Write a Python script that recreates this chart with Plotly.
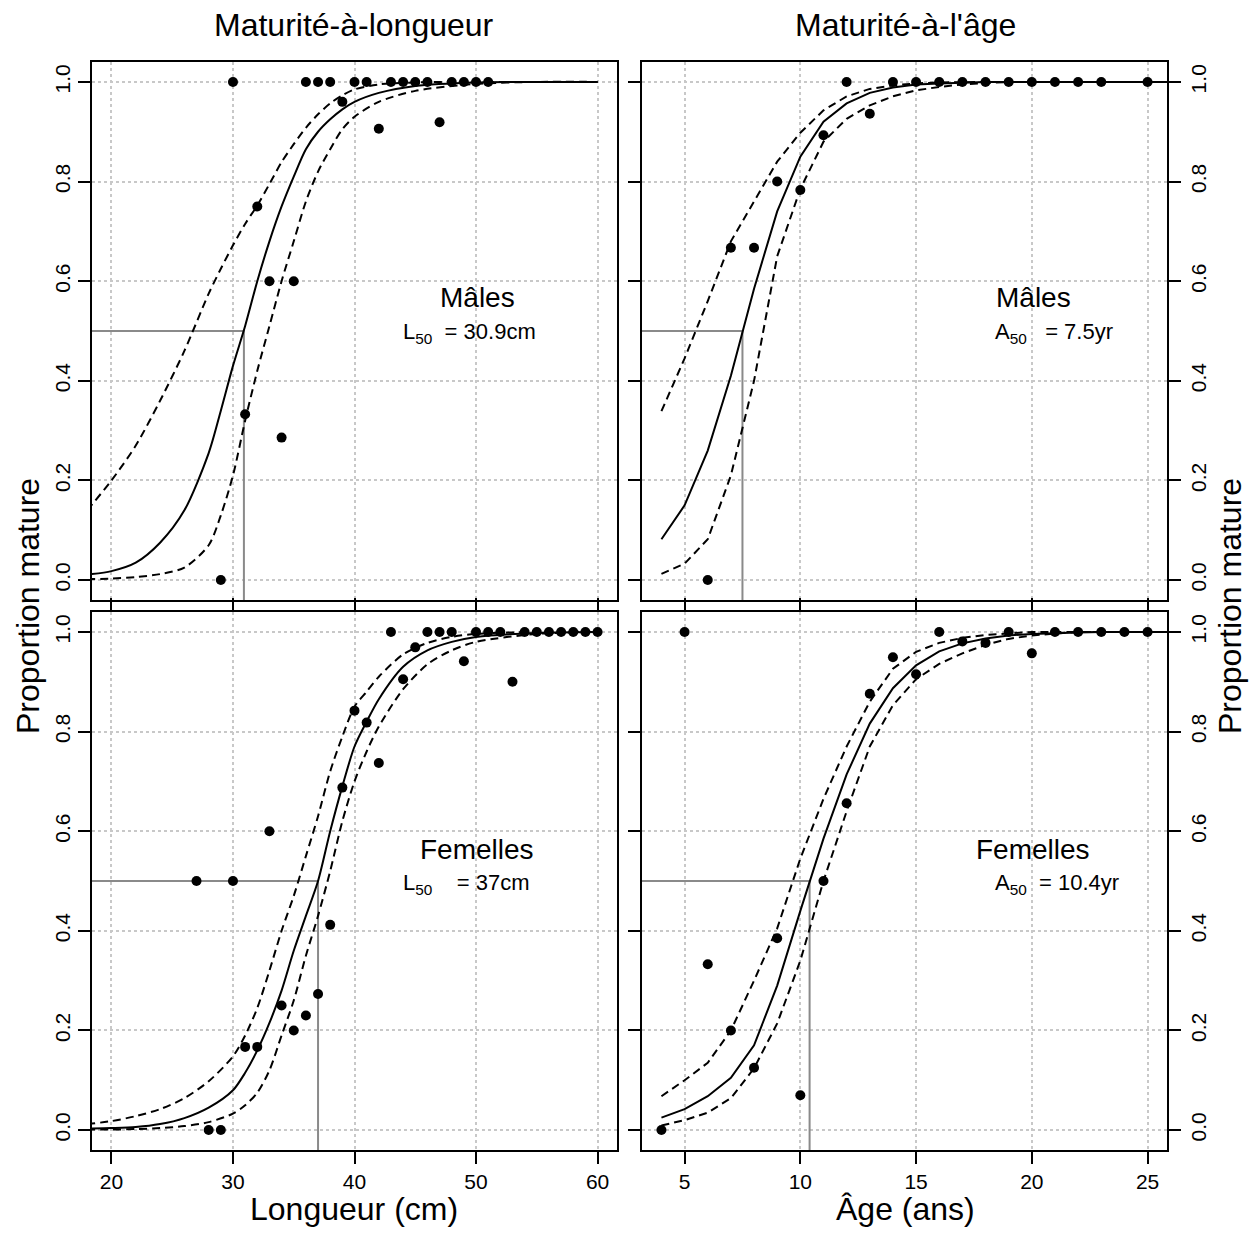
import plotly.graph_objects as go

W, H = 1257, 1238          # target picture size
OFF = 8                    # default page margin of the browser body
FW, FH = W - 2 * OFF, H - 2 * OFF
FONT = "Liberation Sans, Arial, sans-serif"

# ---------------- observed proportions ----------------
# Males, maturity at length
ml_len = [29, 30, 31, 32, 33, 34, 35, 36, 37, 38, 39, 40, 41, 42, 43, 44, 45, 46, 47, 48, 49, 50, 51]
ml_prop = [0, 1, 0.333, 0.75, 0.6, 0.286, 0.6, 1, 1, 1, 0.96, 1, 1, 0.906, 1, 1, 1, 1, 0.919, 1, 1, 1, 1]
# Males, maturity at age
ma_age = [6, 7, 8, 9, 10, 11, 12, 13, 14, 15, 16, 17, 18, 19, 20, 21, 22, 23, 25]
ma_prop = [0, 0.667, 0.667, 0.8, 0.783, 0.893, 1, 0.936, 1, 1, 1, 1, 1, 1, 1, 1, 1, 1, 1]
# Females, maturity at length
fl_len = [27, 28, 29, 30, 31, 32, 33, 34, 35, 36, 37, 38, 39, 40, 41, 42, 43, 44, 45, 46, 47, 48,
          49, 50, 51, 52, 53, 54, 55, 56, 57, 58, 59, 60]
fl_prop = [0.5, 0, 0, 0.5, 0.167, 0.167, 0.6, 0.25, 0.2, 0.23, 0.273, 0.412, 0.6875, 0.842, 0.818,
           0.737, 1, 0.905, 0.969, 1, 1, 1, 0.941, 1, 1, 1, 0.9, 1, 1, 1, 1, 1, 1, 1]
# Females, maturity at age
fa_age = [4, 5, 6, 7, 8, 9, 10, 11, 12, 13, 14, 15, 16, 17, 18, 19, 20, 21, 22, 23, 24, 25]
fa_prop = [0, 1, 0.333, 0.2, 0.125, 0.385, 0.07, 0.5, 0.656, 0.876, 0.949, 0.915, 1, 0.981, 0.978,
           1, 0.957, 1, 1, 1, 1, 1]

# ---------------- fitted curves ----------------
ml_cx = [18, 20, 22, 24, 26, 28, 29, 30, 31, 32, 33, 34, 35, 36, 37, 38, 39, 40, 42, 45, 50, 55, 60]
ml_fit = [0.011, 0.018, 0.035, 0.075, 0.14, 0.255, 0.34, 0.43, 0.51, 0.60, 0.68, 0.75, 0.81, 0.865,
          0.90, 0.925, 0.945, 0.96, 0.978, 0.992, 0.999, 1.0, 1.0]
ml_hi = [0.14, 0.20, 0.27, 0.36, 0.46, 0.575, 0.625, 0.672, 0.715, 0.752, 0.795, 0.839, 0.875, 0.908,
         0.935, 0.957, 0.973, 0.985, 0.995, 0.999, 1.0, 1.0, 1.0]
ml_lo = [0.002, 0.003, 0.006, 0.012, 0.025, 0.07, 0.13, 0.21, 0.32, 0.42, 0.51, 0.60, 0.68, 0.76,
         0.82, 0.865, 0.905, 0.93, 0.96, 0.982, 0.996, 1.0, 1.0]

ma_cx = list(range(4, 27))
ma_fit = [0.082, 0.15, 0.26, 0.41, 0.585, 0.74, 0.85, 0.92, 0.957, 0.978, 0.989, 0.995, 0.997, 0.999,
          1, 1, 1, 1, 1, 1, 1, 1, 1]
ma_hi = [0.339, 0.445, 0.56, 0.68, 0.76, 0.84, 0.898, 0.943, 0.971, 0.986, 0.993, 0.997, 0.999, 1,
         1, 1, 1, 1, 1, 1, 1, 1, 1]
ma_lo = [0.0125, 0.033, 0.082, 0.21, 0.40, 0.65, 0.785, 0.88, 0.926, 0.953, 0.971, 0.983, 0.99, 0.995,
         0.998, 1, 1, 1, 1, 1, 1, 1, 1]

fl_cx = [18, 20, 22, 24, 26, 28, 30, 31, 32, 33, 34, 35, 36, 37, 38, 39, 40, 41, 42, 44, 46, 48, 50, 55, 60]
fl_fit = [0.003, 0.004, 0.006, 0.012, 0.024, 0.045, 0.08, 0.115, 0.16, 0.215, 0.28, 0.36, 0.43, 0.5,
          0.60, 0.69, 0.77, 0.82, 0.865, 0.93, 0.963, 0.98, 0.99, 0.998, 1.0]
fl_hi = [0.012, 0.018, 0.028, 0.042, 0.064, 0.098, 0.148, 0.19, 0.245, 0.32, 0.40, 0.47, 0.55, 0.63,
         0.72, 0.79, 0.85, 0.88, 0.91, 0.955, 0.978, 0.99, 0.996, 1.0, 1.0]
fl_lo = [0.001, 0.001, 0.002, 0.004, 0.008, 0.016, 0.033, 0.05, 0.075, 0.12, 0.19, 0.26, 0.35, 0.43,
         0.52, 0.62, 0.70, 0.76, 0.81, 0.885, 0.935, 0.963, 0.98, 0.996, 1.0]

fa_cx = list(range(4, 27))
fa_fit = [0.025, 0.042, 0.068, 0.105, 0.17, 0.29, 0.44, 0.585, 0.714, 0.816, 0.887, 0.933, 0.961,
          0.977, 0.987, 0.993, 0.996, 0.998, 0.999, 1, 1, 1, 1]
fa_hi = [0.068, 0.10, 0.135, 0.20, 0.30, 0.405, 0.545, 0.665, 0.77, 0.86, 0.926, 0.96, 0.978, 0.988,
         0.994, 0.997, 1, 1, 1, 1, 1, 1, 1]
fa_lo = [0.009, 0.02, 0.035, 0.064, 0.124, 0.214, 0.34, 0.5, 0.64, 0.77, 0.853, 0.905, 0.936, 0.957,
         0.974, 0.986, 0.993, 0.996, 1, 1, 1, 1, 1]

len_lim = [20, 60]
age_lim = [4, 25]
prop_lim = [0, 1]
len_ticks = [20, 30, 40, 50, 60]
age_ticks = [5, 10, 15, 20, 25]
prop_ticks = [0, 0.2, 0.4, 0.6, 0.8, 1.0]

titles_col = ["Maturité-à-longueur", "Maturité-à-l'âge"]
xtitles = ["Longueur (cm)", "Âge (ans)"]
ytitle = "Proportion mature"


def ext(lim, f=0.04):
    d = (lim[1] - lim[0]) * f
    return [lim[0] - d, lim[1] + d]


def px(x):
    return (x - OFF) / FW


def py(y):
    return 1 - (y - OFF) / FH


# domains (pixel based, in page coordinates)
dom_x = [[px(92), px(617)], [px(642), px(1167)]]
dom_y = [[py(600), py(62)], [py(1150), py(612)]]

panels = [
    dict(pxs=ml_len, pys=ml_prop, cx=ml_cx, fit=ml_fit, lo=ml_lo, hi=ml_hi, x50=30.9, lim=len_lim,
         ticks=len_ticks, spline=True, col=0, row=0, sex="Mâles", lab="L", val="30.9cm", gap=2),
    dict(pxs=ma_age, pys=ma_prop, cx=ma_cx, fit=ma_fit, lo=ma_lo, hi=ma_hi, x50=7.5, lim=age_lim,
         ticks=age_ticks, spline=False, col=1, row=0, sex="Mâles", lab="A", val="7.5yr", gap=3),
    dict(pxs=fl_len, pys=fl_prop, cx=fl_cx, fit=fl_fit, lo=fl_lo, hi=fl_hi, x50=37, lim=len_lim,
         ticks=len_ticks, spline=True, col=0, row=1, sex="Femelles", lab="L", val="37cm", gap=4),
    dict(pxs=fa_age, pys=fa_prop, cx=fa_cx, fit=fa_fit, lo=fa_lo, hi=fa_hi, x50=10.4, lim=age_lim,
         ticks=age_ticks, spline=False, col=1, row=1, sex="Femelles", lab="A", val="10.4yr", gap=2),
]

fig = go.Figure()
yr = ext(prop_lim)
layout = {}
annotations = []

for i, p in enumerate(panels, start=1):
    xa = "x" if i == 1 else f"x{i}"
    ya = "y" if i == 1 else f"y{i}"
    xr = ext(p["lim"])
    shape = "spline" if p["spline"] else "linear"

    # reference lines at 50 %
    fig.add_trace(go.Scatter(x=[xr[0], p["x50"], p["x50"]], y=[0.5, 0.5, yr[0]], mode="lines",
                             line=dict(color="#8a8a8a", width=2), xaxis=xa, yaxis=ya,
                             showlegend=False, hoverinfo="skip"))
    for yy, dash in [(p["hi"], "8px,5px"), (p["lo"], "8px,5px"), (p["fit"], "solid")]:
        fig.add_trace(go.Scatter(x=p["cx"], y=yy, mode="lines",
                                 line=dict(color="black", width=2, dash=dash, shape=shape,
                                           smoothing=0.8 if p["spline"] else None),
                                 xaxis=xa, yaxis=ya, showlegend=False, hoverinfo="skip"))
    fig.add_trace(go.Scatter(x=p["pxs"], y=p["pys"], mode="markers",
                             marker=dict(color="black", size=10), xaxis=xa, yaxis=ya,
                             showlegend=False, cliponaxis=False))

    bottom = p["row"] == 1
    right = p["col"] == 1
    common = dict(showline=True, linecolor="black", linewidth=1.5, zeroline=False,
                  showgrid=True, gridcolor="#c8c8c8", griddash="dot", gridwidth=1.5,
                  tickcolor="black", tickwidth=1.5, ticklen=12,
                  tickfont=dict(size=21, color="black", family=FONT))
    layout["xaxis" if i == 1 else f"xaxis{i}"] = dict(
        common, domain=dom_x[p["col"]], anchor=ya, range=xr, tickvals=p["ticks"],
        ticks="outside" if bottom else "", mirror="ticks" if bottom else True,
        showticklabels=bottom)
    layout["yaxis" if i == 1 else f"yaxis{i}"] = dict(
        common, domain=dom_y[p["row"]], anchor=xa, range=yr, tickvals=prop_ticks,
        tickformat=".1f", ticks="outside", side="right" if right else "left",
        mirror="ticks" if right else True, tickangle=-90)

    # panel labels
    cx_px = 477 if p["col"] == 0 else 1033
    lx_px = 401 if p["col"] == 0 else 993
    base_y = 298 if p["row"] == 0 else 849
    annotations.append(dict(x=px(cx_px), y=py(base_y), xref="paper", yref="paper", text=p["sex"],
                            showarrow=False, font=dict(size=28, color="black", family=FONT),
                            xanchor="center", yanchor="middle"))
    annotations.append(dict(x=px(lx_px), y=py(base_y + 35), xref="paper", yref="paper",
                            text=f"{p['lab']}<sub>50</sub>" + "\u00a0" * p["gap"] + "=\u00a0" + p["val"],
                            showarrow=False, font=dict(size=22, color="black", family=FONT),
                            xanchor="left", yanchor="middle"))

for c in range(2):
    cx = 354 if c == 0 else 905
    annotations.append(dict(x=px(cx), y=py(25), xref="paper", yref="paper", text=titles_col[c],
                            showarrow=False, font=dict(size=32, color="black", family=FONT),
                            xanchor="center", yanchor="middle"))
    annotations.append(dict(x=px(cx), y=py(1229), xref="paper", yref="paper", text=xtitles[c],
                            showarrow=False, font=dict(size=32, color="black", family=FONT),
                            xanchor="center", yanchor="bottom"))
for xpos in (28, 1230):
    annotations.append(dict(x=px(xpos), y=py(606), xref="paper", yref="paper", text=ytitle,
                            showarrow=False, textangle=-90,
                            font=dict(size=32, color="black", family=FONT),
                            xanchor="center", yanchor="middle"))

fig.update_layout(width=FW, height=FH, margin=dict(l=0, r=0, t=0, b=0, pad=0),
                  paper_bgcolor="white", plot_bgcolor="white",
                  annotations=annotations, showlegend=False, **layout)

fig.write_html("out.html")
